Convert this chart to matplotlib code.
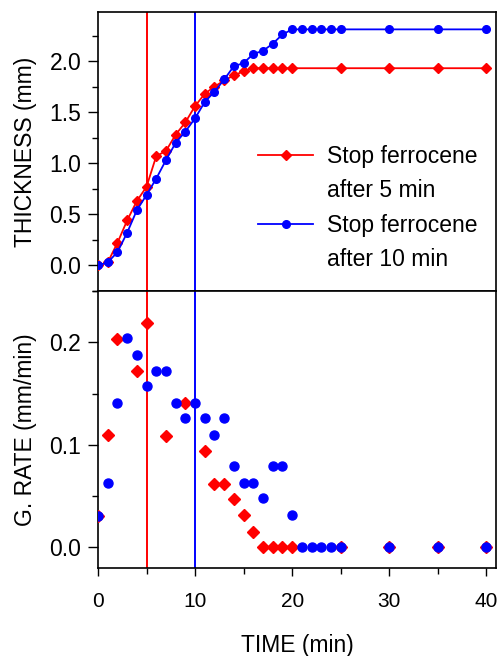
import matplotlib
matplotlib.use("Agg")
import matplotlib.pyplot as plt
from matplotlib.ticker import MultipleLocator, FormatStrFormatter
from matplotlib.lines import Line2D

plt.rcParams['font.family'] = ['Liberation Sans', 'DejaVu Sans']

# ---- data ----
t_red = [0, 1, 2, 3, 4, 5, 6, 7, 8, 9, 10, 11, 12, 13, 14, 15, 16, 17, 18, 19, 20, 25, 30, 35, 40]
thick_red = [0.0, 0.03, 0.22, 0.44, 0.63, 0.77, 1.07, 1.12, 1.28, 1.40, 1.56, 1.68, 1.75, 1.81,
             1.86, 1.90, 1.93, 1.93, 1.93, 1.93, 1.93, 1.93, 1.93, 1.93, 1.93]
t_rate_red = [0, 1, 2, 4, 5, 7, 9, 11, 12, 13, 14, 15, 16, 17, 18, 19, 20, 25, 30, 35, 40]
rate_red = [0.031, 0.110, 0.203, 0.172, 0.219, 0.109, 0.141, 0.094,
            0.062, 0.062, 0.047, 0.032, 0.015, 0.0, 0.0, 0.0, 0.0, 0.0, 0.0, 0.0, 0.0]

t_blue = [0, 1, 2, 3, 4, 5, 6, 7, 8, 9, 10, 11, 12, 13, 14, 15, 16, 17, 18, 19, 20,
          21, 22, 23, 24, 25, 30, 35, 40]
thick_blue = [0.0, 0.03, 0.13, 0.32, 0.54, 0.69, 0.85, 1.03, 1.20, 1.31, 1.44, 1.60, 1.70, 1.82,
              1.95, 1.98, 2.07, 2.10, 2.17, 2.26, 2.31, 2.31, 2.31, 2.31, 2.31, 2.31, 2.31, 2.31, 2.31]
rate_blue = [0.031, 0.063, 0.141, 0.204, 0.188, 0.157, 0.172, 0.172, 0.141, 0.126, 0.141, 0.126,
             0.110, 0.126, 0.079, 0.063, 0.063, 0.048, 0.079, 0.079, 0.032,
             0.0, 0.0, 0.0, 0.0, 0.0, 0.0, 0.0, 0.0]

stop_times = [5, 10]
label_lines = [("Stop ferrocene", "after 5 min"), ("Stop ferrocene", "after 10 min")]
RED = "#ff0000"
BLUE = "#0000ff"

fig = plt.figure(figsize=(5.01, 6.56), dpi=100)
left, right = 98 / 501, 496 / 501
ax1 = fig.add_axes([left, 1 - 291 / 656, right - left, (291 - 12) / 656])
ax2 = fig.add_axes([left, 1 - 568 / 656, right - left, (568 - 291) / 656])

FSY = 16.5   # y tick labels / axis labels
FSX = 15.0   # x tick labels

# top panel
l_red, = ax1.plot(t_red, thick_red, color=RED, marker='D', markersize=5, lw=1.3, zorder=3)
l_blue, = ax1.plot(t_blue, thick_blue, color=BLUE, marker='o', markersize=5.5, lw=1.3, zorder=4)
ax1.axvline(stop_times[0], color=RED, lw=1.4, zorder=2)
ax1.axvline(stop_times[1], color=BLUE, lw=1.4, zorder=2)
ax1.set_xlim(0, 41)
ax1.set_ylim(-0.25, 2.48)
ax1.yaxis.set_major_locator(MultipleLocator(0.5))
ax1.yaxis.set_minor_locator(MultipleLocator(0.25))
ax1.yaxis.set_major_formatter(FormatStrFormatter('%.1f'))
ax1.tick_params(axis='x', which='both', bottom=False, labelbottom=False)
ax1.tick_params(axis='y', which='major', length=7, width=1, labelsize=FSY, pad=5, direction='out')
ax1.tick_params(axis='y', which='minor', length=4, width=1, direction='out')
ax1.set_ylabel("THICKNESS (mm)", fontsize=FSY, labelpad=9)

blank = Line2D([], [], linestyle='none', marker=None)
handles = [l_red, blank, l_blue, blank]
texts = [label_lines[0][0], label_lines[0][1], label_lines[1][0], label_lines[1][1]]
leg = ax1.legend(handles, texts, loc='upper left',
                 bbox_to_anchor=(258 / 501, 1 - 145 / 656), bbox_transform=fig.transFigure,
                 frameon=False, fontsize=FSY, handlelength=2.4, handletextpad=0.6,
                 labelspacing=0.5, borderpad=0, borderaxespad=0)

# bottom panel
ax2.plot(t_rate_red, rate_red, linestyle='none', color=RED, marker='D', markersize=6, zorder=3)
ax2.plot(t_blue, rate_blue, linestyle='none', color=BLUE, marker='o', markersize=6.5, zorder=4)
ax2.axvline(stop_times[0], color=RED, lw=1.4, zorder=2)
ax2.axvline(stop_times[1], color=BLUE, lw=1.4, zorder=2)
ax2.set_xlim(0, 41)
ax2.set_ylim(-0.02, 0.25)
ax2.yaxis.set_major_locator(MultipleLocator(0.1))
ax2.yaxis.set_minor_locator(MultipleLocator(0.05))
ax2.yaxis.set_major_formatter(FormatStrFormatter('%.1f'))
ax2.xaxis.set_major_locator(MultipleLocator(10))
ax2.xaxis.set_minor_locator(MultipleLocator(5))
ax2.tick_params(axis='y', which='major', length=7, width=1, labelsize=FSY, pad=5, direction='out')
ax2.tick_params(axis='y', which='minor', length=4, width=1, direction='out')
ax2.tick_params(axis='x', which='major', length=6, width=1, labelsize=FSX, pad=11, direction='out')
ax2.tick_params(axis='x', which='minor', length=4, width=1, direction='out')
ax2.set_ylabel("G. RATE (mm/min)", fontsize=FSY, labelpad=9)
ax2.set_xlabel("TIME (min)", fontsize=FSY, labelpad=17)

for ax in (ax1, ax2):
    for s in ax.spines.values():
        s.set_linewidth(1.2)

fig.savefig("out.png", dpi=100)
